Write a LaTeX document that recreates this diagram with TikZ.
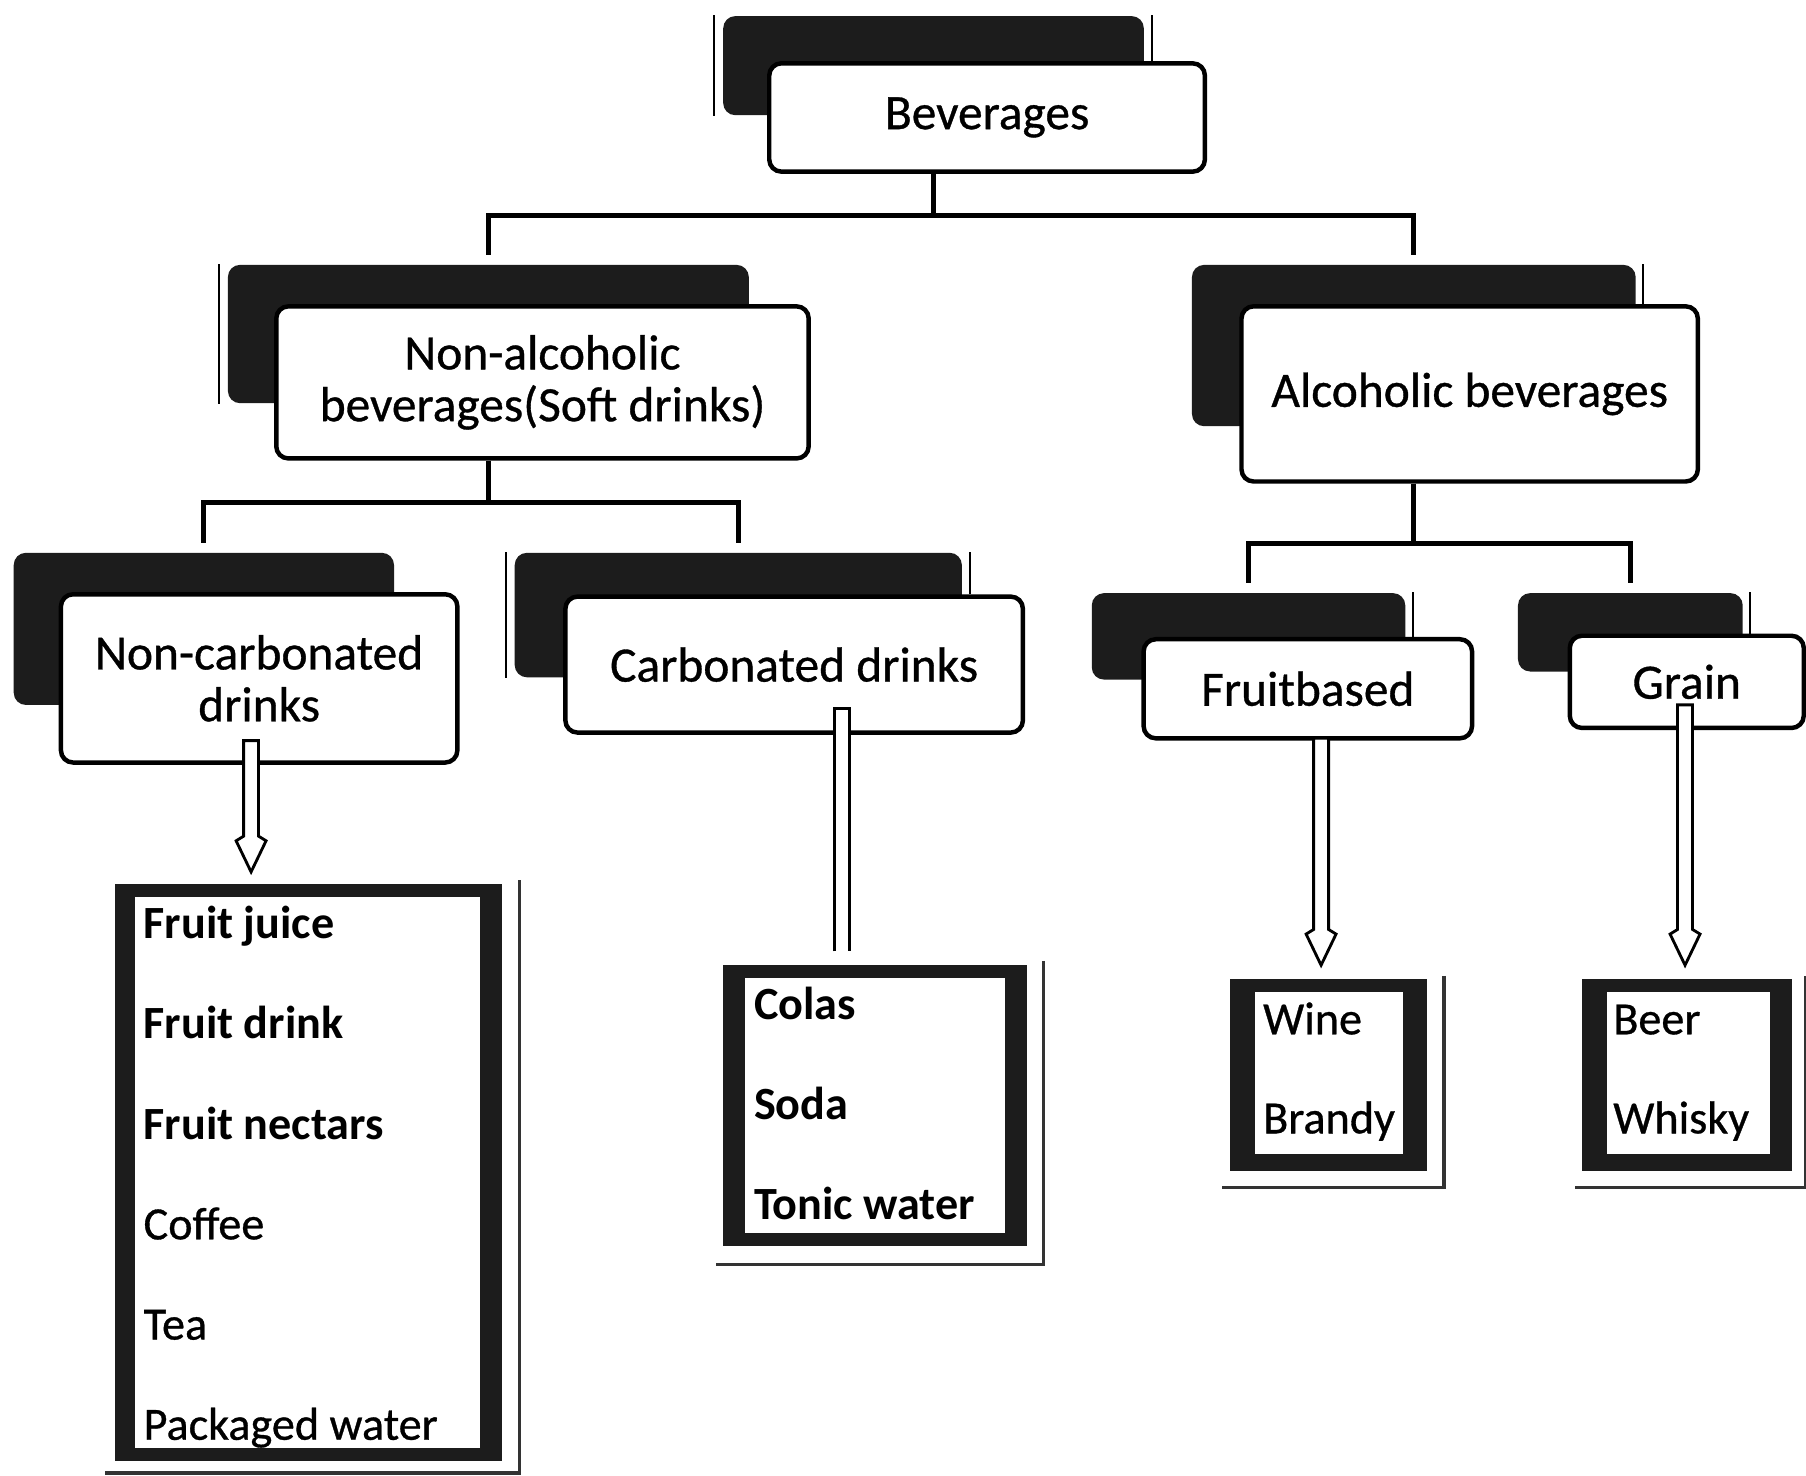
\documentclass[tikz,border=0pt]{standalone}
\usepackage{fontspec}
\setmainfont{Carlito}
\newfontfamily\heavyreg{Carlito}[FakeBold=0.7]
\usetikzlibrary{calc}
\definecolor{shade}{HTML}{1C1C1C}
\newcommand\hollowarrow[2]{%
  \draw[hollow] let \p1=(#1), \p2=(#2) in
    (\x2-0.065cm,\y1) -- (\x2-0.065cm,\y2+0.31cm) -- (\x2-0.13cm,\y2+0.27cm) --
    (\x2,\y2) -- (\x2+0.13cm,\y2+0.27cm) -- (\x2+0.065cm,\y2+0.31cm) --
    (\x2+0.065cm,\y1) -- cycle;}
\begin{document}
\begin{tikzpicture}[x=0.01cm,y=-0.01cm,
  titlebox/.style={draw=black, line width=1.1pt, rounded corners=3pt, fill=white,
    align=center, inner sep=0pt, font=\heavyreg\fontsize{12.2}{12.8}\selectfont},
  shadowbox/.style={fill=shade, rounded corners=3pt, inner sep=0pt},
  conn/.style={line width=1.2pt, shorten >=0.08cm},
  thinl/.style={line width=0.5pt},
  edgeline/.style={line width=0.8pt, draw=black!80},
  framebox/.style={fill=shade, inner sep=0pt},
  item/.style={anchor=base west, inner sep=0pt, font=\heavyreg\fontsize{11.4}{12}\selectfont},
  bitem/.style={item, font=\fontsize{11.4}{12}\selectfont\bfseries},
  hollow/.style={draw=black, fill=white, line width=0.7pt}]
\useasboundingbox (0,0) rectangle (1568,1281);
\fill[white] (0,0) rectangle (1568,1281);

% ---- shadows ----
\node[shadowbox, minimum width=3.65cm, minimum height=0.86cm] (bevS)  at (810.5,57) {};
\node[shadowbox, minimum width=4.52cm, minimum height=1.20cm] (nalcS) at (424,290) {};
\node[shadowbox, minimum width=3.85cm, minimum height=1.40cm] (alcS)  at (1227.5,300) {};
\node[shadowbox, minimum width=3.30cm, minimum height=1.32cm] (ncS)   at (177,546) {};
\node[shadowbox, minimum width=3.88cm, minimum height=1.08cm] (cS)    at (641,534) {};
\node[shadowbox, minimum width=2.72cm, minimum height=0.75cm] (fS)    at (1084,552.5) {};
\node[shadowbox, minimum width=1.95cm, minimum height=0.68cm] (gS)    at (1415.5,549) {};

% ---- title boxes ----
\node[titlebox, minimum width=3.78cm, minimum height=0.94cm] (bev)  at (857,102) {Beverages};
\node[titlebox, minimum width=4.62cm, minimum height=1.32cm] (nalc) at (471,332) {Non-alcoholic\\beverages(Soft drinks)};
\node[titlebox, minimum width=3.96cm, minimum height=1.52cm] (alc)  at (1276,342) {Alcoholic beverages};
\node[titlebox, minimum width=3.44cm, minimum height=1.46cm] (nc)   at (225,589) {Non-carbonated\\drinks};
\node[titlebox, minimum width=3.97cm, minimum height=1.18cm] (carb) at (689.5,577) {Carbonated drinks};
\node[titlebox, minimum width=2.85cm, minimum height=0.86cm] (fruit) at (1135.5,598) {Fruitbased};
\node[titlebox, minimum width=2.03cm, minimum height=0.80cm] (grain) at (1464.5,592) {Grain};

% ---- thin edge lines beside shadows ----
\draw[thinl] ([xshift=-0.07cm]bevS.north west) -- ([xshift=-0.07cm]bevS.south west);
\draw[thinl] ([xshift=0.06cm]bevS.north east) -- ([xshift=0.06cm]bevS.north east |- bev.north);
\draw[thinl] ([xshift=-0.07cm]nalcS.north west) -- ([xshift=-0.07cm]nalcS.south west);
\draw[thinl] ([xshift=0.06cm]alcS.north east) -- ([xshift=0.06cm]alcS.north east |- alc.north);
\draw[thinl] ([xshift=-0.07cm]cS.north west) -- ([xshift=-0.07cm]cS.south west);
\draw[thinl] ([xshift=0.06cm]cS.north east) -- ([xshift=0.06cm]cS.north east |- carb.north);
\draw[thinl] ([xshift=0.06cm]fS.north east) -- ([xshift=0.06cm]fS.north east |- fruit.north);
\draw[thinl] ([xshift=0.06cm]gS.north east) -- ([xshift=0.06cm]gS.north east |- grain.north);

% ---- tree connectors ----
\draw[conn] (bevS.center |- bev.south) -- ++(0,36) -| (nalcS.north);
\draw[conn] (bevS.center |- bev.south) -- ++(0,36) -| (alcS.north);
\draw[conn] (nalcS.center |- nalc.south) -- ++(0,36) -| (ncS.north);
\draw[conn] (nalcS.center |- nalc.south) -- ++(0,36) -| (cS.north);
\draw[conn] (alcS.center |- alc.south) -- ++(0,52) -| (fS.north);
\draw[conn] (alcS.center |- alc.south) -- ++(0,52) -| (gS.north);

% ---- list boxes ----
\node[framebox, minimum width=3.36cm, minimum height=5.00cm] (l1) at (268,1018) {};
\fill[white] ($(l1.north west)+(18,12)$) rectangle ($(l1.south east)+(-20,-12)$);
\draw[edgeline] ($(l1.north east)+(14,-3)$) -- ($(l1.south east)+(14,10)$) -- ($(l1.south west)+(-8,10)$);

\node[framebox, minimum width=2.64cm, minimum height=2.44cm] (l2) at (760,960) {};
\fill[white] ($(l2.north west)+(20,12)$) rectangle ($(l2.south east)+(-20,-12)$);
\draw[edgeline] ($(l2.north east)+(13,-3)$) -- ($(l2.south east)+(13,15)$) -- ($(l2.south west)+(-6,15)$);

\node[framebox, minimum width=1.71cm, minimum height=1.67cm] (l3) at (1153.5,933.5) {};
\fill[white] ($(l3.north west)+(22,12)$) rectangle ($(l3.south east)+(-22,-16)$);
\draw[edgeline] ($(l3.north east)+(14,-2)$) -- ($(l3.south east)+(14,13)$) -- ($(l3.south west)+(-6,13)$);

\node[framebox, minimum width=1.82cm, minimum height=1.67cm] (l4) at (1465,933.5) {};
\fill[white] ($(l4.north west)+(22,12)$) rectangle ($(l4.south east)+(-20,-16)$);
\draw[edgeline] ($(l4.north east)+(11,-2)$) -- ($(l4.south east)+(11,13)$) -- ($(l4.south west)+(-6,13)$);

% ---- list items ----
\node[bitem] (i11) at (124,815) {Fruit juice};
\node[bitem] (i12) at (124,902) {Fruit drink};
\node[bitem] (i13) at (124,989) {Fruit nectars};
\node[item]  (i14) at (124,1076) {Coffee};
\node[item]  (i15) at (124,1163) {Tea};
\node[item]  (i16) at (124,1250) {Packaged water};

\node[bitem] (i21) at (654,885) {Colas};
\node[bitem] (i22) at (654,972) {Soda};
\node[bitem] (i23) at (654,1059) {Tonic water};

\node[item] (i31) at (1096,898) {Wine};
\node[item] (i32) at (1096,984) {Brandy};

\node[item] (i41) at (1400,898) {Beer};
\node[item] (i42) at (1400,984) {Whisky};

% ---- hollow arrows ----
\coordinate (a1s) at (218,643);  \coordinate (a1e) at (218,757);
\coordinate (a2s) at (731,615);  \coordinate (a2e) at (731,826);
\coordinate (a3s) at (1147,641); \coordinate (a3e) at (1147,838);
\coordinate (a4s) at (1463,612); \coordinate (a4e) at (1463,838);
\hollowarrow{a1s}{a1e}
\draw[hollow] let \p1=(a2s), \p2=(a2e) in
  (\x2-0.065cm,\y2) -- (\x2-0.065cm,\y1) -- (\x2+0.065cm,\y1) -- (\x2+0.065cm,\y2);
\hollowarrow{a3s}{a3e}
\hollowarrow{a4s}{a4e}
\end{tikzpicture}
\end{document}
